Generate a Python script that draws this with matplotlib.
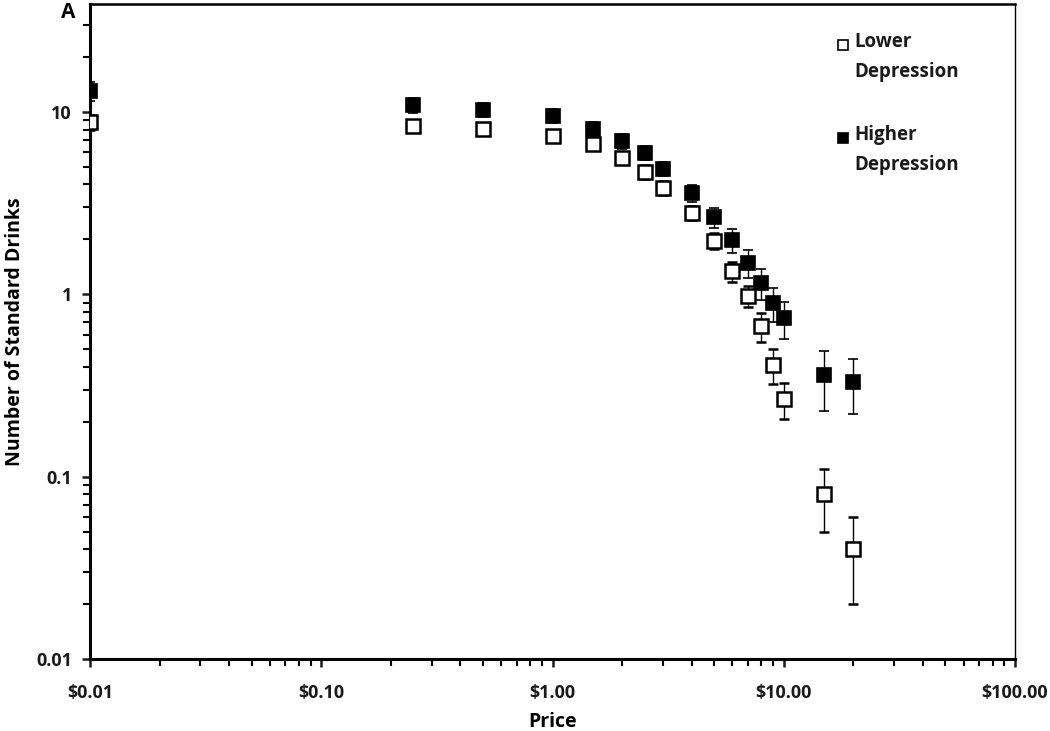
import numpy as np
import matplotlib
matplotlib.use("Agg")
import matplotlib.pyplot as plt
from matplotlib.ticker import FixedLocator, LogLocator, NullFormatter

plt.rcParams['font.family'] = ['Open Sans', 'DejaVu Sans']
plt.rcParams['font.weight'] = 'bold'

# price points ($) and consumption (standard drinks)
price = [0.01, 0.25, 0.5, 1, 1.5, 2, 2.5, 3, 4, 5, 6, 7, 8, 9, 10, 15, 20]
lower_dep = [8.8, 8.4, 8.07, 7.38, 6.67, 5.6, 4.69, 3.83, 2.79, 1.96, 1.34,
             0.98, 0.67, 0.41, 0.267, 0.080, 0.040]
lower_err = [0.8, 0.6, 0.6, 0.55, 0.5, 0.45, 0.4, 0.35, 0.25, 0.2, 0.17,
             0.13, 0.12, 0.09, 0.06, 0.03, 0.02]
higher_dep = [13.0, 10.9, 10.25, 9.5, 8.07, 6.93, 5.96, 4.87, 3.6, 2.65, 1.99,
              1.49, 1.15, 0.895, 0.74, 0.36, 0.33]
higher_err = [1.5, 1.0, 0.9, 0.85, 0.7, 0.65, 0.55, 0.45, 0.38, 0.33, 0.3,
              0.26, 0.22, 0.19, 0.17, 0.13, 0.11]

xticks = [0.01, 0.1, 1, 10, 100]
xticklabels = ['$0.01', '$0.10', '$1.00', '$10.00', '$100.00']
yticks = [0.01, 0.1, 1, 10]
yticklabels = ['0.01', '0.1', '1', '10']

fig = plt.figure(figsize=(10.5, 7.31), dpi=100)
ax = fig.add_axes([0.0857, 0.0985, 0.881, 0.896])

ax.errorbar(price, higher_dep, yerr=higher_err, fmt='s', color='black',
            mfc='black', mec='black', ms=10, mew=1.2, ecolor='black',
            elinewidth=1, capsize=3.5, capthick=1, zorder=3)
ax.errorbar(price, lower_dep, yerr=lower_err, fmt='s', color='black',
            mfc='white', mec='black', ms=10, mew=1.8, ecolor='black',
            elinewidth=1, capsize=3.5, capthick=1, zorder=4)

ax.set_xscale('log')
ax.set_yscale('log')
ax.set_xlim(0.01, 100)
ax.set_ylim(0.01, 39)

ax.xaxis.set_major_locator(FixedLocator(xticks))
ax.set_xticklabels(xticklabels)
ax.yaxis.set_major_locator(FixedLocator(yticks))
ax.set_yticklabels(yticklabels)
ax.xaxis.set_minor_locator(LogLocator(base=10, subs=np.arange(2, 10)))
ax.yaxis.set_minor_locator(LogLocator(base=10, subs=np.arange(2, 10)))
ax.xaxis.set_minor_formatter(NullFormatter())
ax.yaxis.set_minor_formatter(NullFormatter())

ax.tick_params(which='major', direction='out', length=6, width=1.8,
               labelsize=13, colors='#1a1a1a')
ax.tick_params(which='minor', direction='out', length=5, width=1.5)
ax.tick_params(axis='x', pad=12)
ax.tick_params(axis='y', pad=7)

for s in ['left', 'bottom']:
    ax.spines[s].set_linewidth(2.2)
ax.spines['top'].set_linewidth(1.8)
ax.spines['right'].set_linewidth(1.0)

ax.set_xlabel('Price', fontsize=14, fontweight='bold', labelpad=7)
ax.set_ylabel('Number of Standard Drinks', fontsize=14, fontweight='bold',
              labelpad=8)
fig.text(0.065, 0.983, 'A', fontsize=15, fontweight='bold', ha='center',
         va='center')

# legend drawn by hand so the marker sits beside the first line of text
ax.plot([0.8135], [0.937], 's', transform=ax.transAxes, ms=7, mfc='white',
        mec='black', mew=1.2, clip_on=False)
ax.text(0.826, 0.957, 'Lower\nDepression', transform=ax.transAxes,
        fontsize=13.5, fontweight='bold', va='top', ha='left',
        linespacing=1.65, color='#1a1a1a')
ax.plot([0.8135], [0.795], 's', transform=ax.transAxes, ms=7, mfc='black',
        mec='black', mew=1.2, clip_on=False)
ax.text(0.826, 0.815, 'Higher\nDepression', transform=ax.transAxes,
        fontsize=13.5, fontweight='bold', va='top', ha='left',
        linespacing=1.65, color='#1a1a1a')

fig.savefig('out.png', dpi=100)
